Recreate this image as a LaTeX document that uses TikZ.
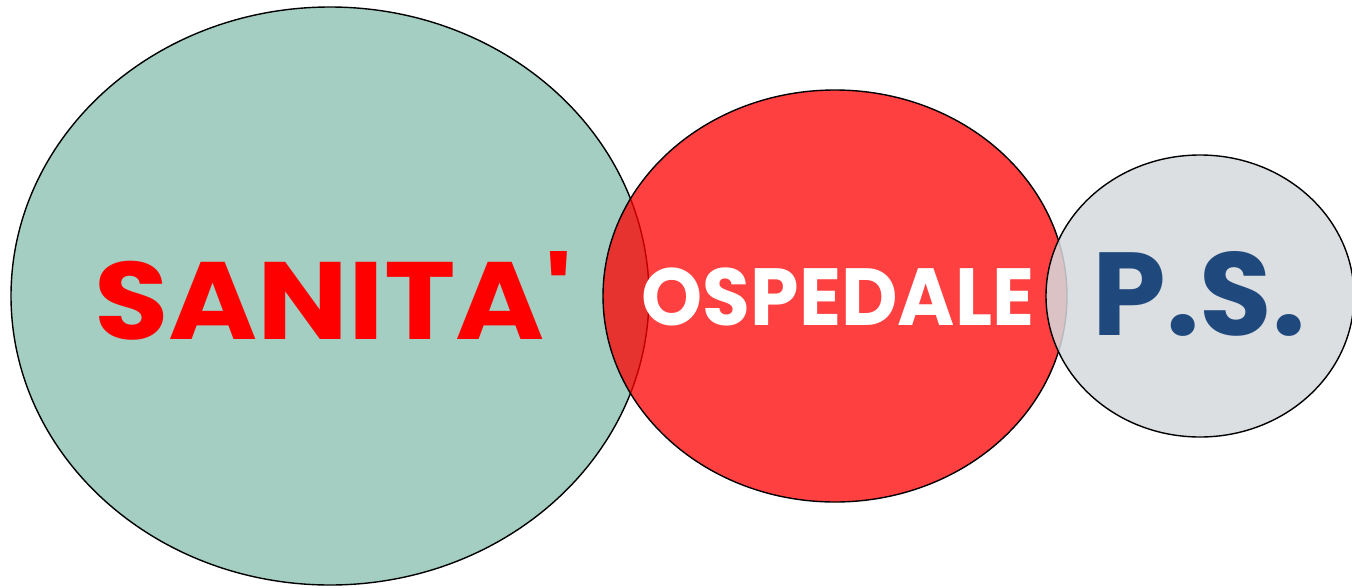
\documentclass[tikz,border=0pt]{standalone}
\usepackage{fontspec}
\newfontfamily\cfont{Poppins}[BoldFont={* Bold}]
\definecolor{tealfill}{HTML}{A3CEC1}
\definecolor{redfill}{HTML}{FF0000}
\definecolor{grayfill}{HTML}{D6D9DD}
\definecolor{psblue}{HTML}{1F497D}
\definecolor{sanred}{HTML}{FF0000}
\tikzset{
  outline/.style={draw=black, line width=1.4pt},
  lbl/.style={inner sep=0pt, anchor=center}
}
\begin{document}
\begin{tikzpicture}[x=1pt,y=-1pt]
\useasboundingbox (0,0) rectangle (1352,587);
\begin{scope}
\clip (0,0) rectangle (1352,587);
\fill[tealfill] (330,296) ellipse [x radius=319, y radius=289];
\draw[outline] (330,296) ellipse [x radius=319, y radius=289];
\fill[redfill, fill opacity=0.75] (835,296) ellipse [x radius=232, y radius=206];
\draw[outline] (835,296) ellipse [x radius=232, y radius=206];
\fill[grayfill, fill opacity=0.85] (1200,296) ellipse [x radius=154, y radius=141];
\draw[outline] (1200,296) ellipse [x radius=154, y radius=141];
\end{scope}
\coordinate (c1) at (333,296);
\coordinate (c2) at (838,297);
\coordinate (c3) at (1199,294);
\node[lbl, text=sanred, xscale=1.1, font=\cfont\bfseries\fontsize{110}{110}\selectfont] (san) at (c1) {SANITA\textquotesingle};
\node[lbl, text=white, xscale=0.96, font=\cfont\bfseries\fontsize{81}{81}\selectfont] (osp) at (c2) {OSPEDALE};
\node[lbl, text=psblue, font=\cfont\bfseries\fontsize{118}{118}\selectfont] (ps) at (c3) {P.S.};
\end{tikzpicture}
\end{document}
